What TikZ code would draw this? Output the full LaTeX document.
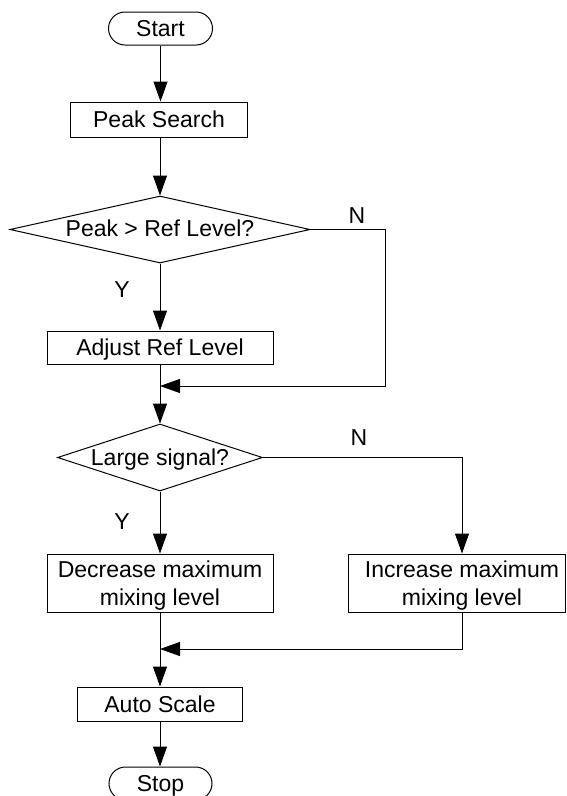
\documentclass[tikz,border=0pt]{standalone}
\usepackage{fontspec}
\setmainfont{Liberation Sans}
\usetikzlibrary{arrows.meta,shapes.geometric,shapes.misc}
\begin{document}
\begin{tikzpicture}[x=1pt,y=-1pt, line width=1pt,
  every node/.style={font=\fontsize{23}{28}\selectfont, inner sep=0pt},
  box/.style={draw, rectangle, text height=16.5pt, text depth=0pt},
  box2/.style={draw, rectangle, align=center, text depth=0pt},
  term/.style={draw, rounded rectangle, minimum width=104pt, minimum height=33pt, text height=16.5pt, text depth=0pt},
  dia/.style={draw, diamond},
  lbl/.style={text height=16.5pt, text depth=0pt},
  arr/.style={-{Triangle[length=20pt,width=14pt]}}]
\clip (0,0) rectangle (566,796);
\fill[white] (0,0) rectangle (566,796);
% nodes
\node[term] (start) at (160.5,28.5) {Start};
\node[box, minimum width=177pt, minimum height=35pt] (peak) at (159,119.5) {Peak Search};
\node[dia, minimum width=300pt, minimum height=67pt] (d1) at (160,229.5) {};
\node[lbl] (d1t) at (160,228) {Peak > Ref Level?};
\node[lbl] (no1) at (357,215) {N};
\node[lbl] (yes1) at (122,289) {Y};
\node[box, minimum width=226pt, minimum height=33pt] (adj) at (160,347.5) {Adjust Ref Level};
\coordinate (c1) at (385,386);
\coordinate (m1) at (160,386);
\node[dia, minimum width=205pt, minimum height=67pt] (d2) at (160,457.5) {};
\node[lbl] (d2t) at (160,457) {Large signal?};
\node[lbl] (no2) at (359,437) {N};
\node[lbl] (yes2) at (122,521) {Y};
\node[box2, minimum width=226pt, minimum height=58pt] (dec) at (160,583) {Decrease maximum\\mixing level};
\node[draw, minimum width=217pt, minimum height=58pt] (inc) at (456.5,583) {};
\node[align=center, text depth=0pt] (inct) at (462,583) {Increase maximum\\mixing level};
\coordinate (m2) at (160,649);
\node[box, minimum width=165pt, minimum height=34pt] (auto) at (160,704) {Auto Scale};
\node[term, minimum width=103pt] (stop) at (160.5,783.5) {Stop};
% connectors
\draw[arr] (start.south) -- (start.south |- peak.north);
\draw[arr] (peak.south -| d1.north) -- (d1.north);
\draw[arr] (d1.south) -- (adj.north);
\draw[arr] (d1.east) -| (c1) -- (m1);
\draw[arr] (adj.south) -- (d2.north);
\draw[arr] (d2.south) -- (dec.north);
\draw[arr] (d2.east) -| (inc.north -| inct);
\draw[arr] (inc.south -| inct) |- (m2);
\draw[arr] (dec.south) -- (auto.north);
\draw[arr] (auto.south) -- (auto.south |- stop.north);
\end{tikzpicture}
\end{document}
